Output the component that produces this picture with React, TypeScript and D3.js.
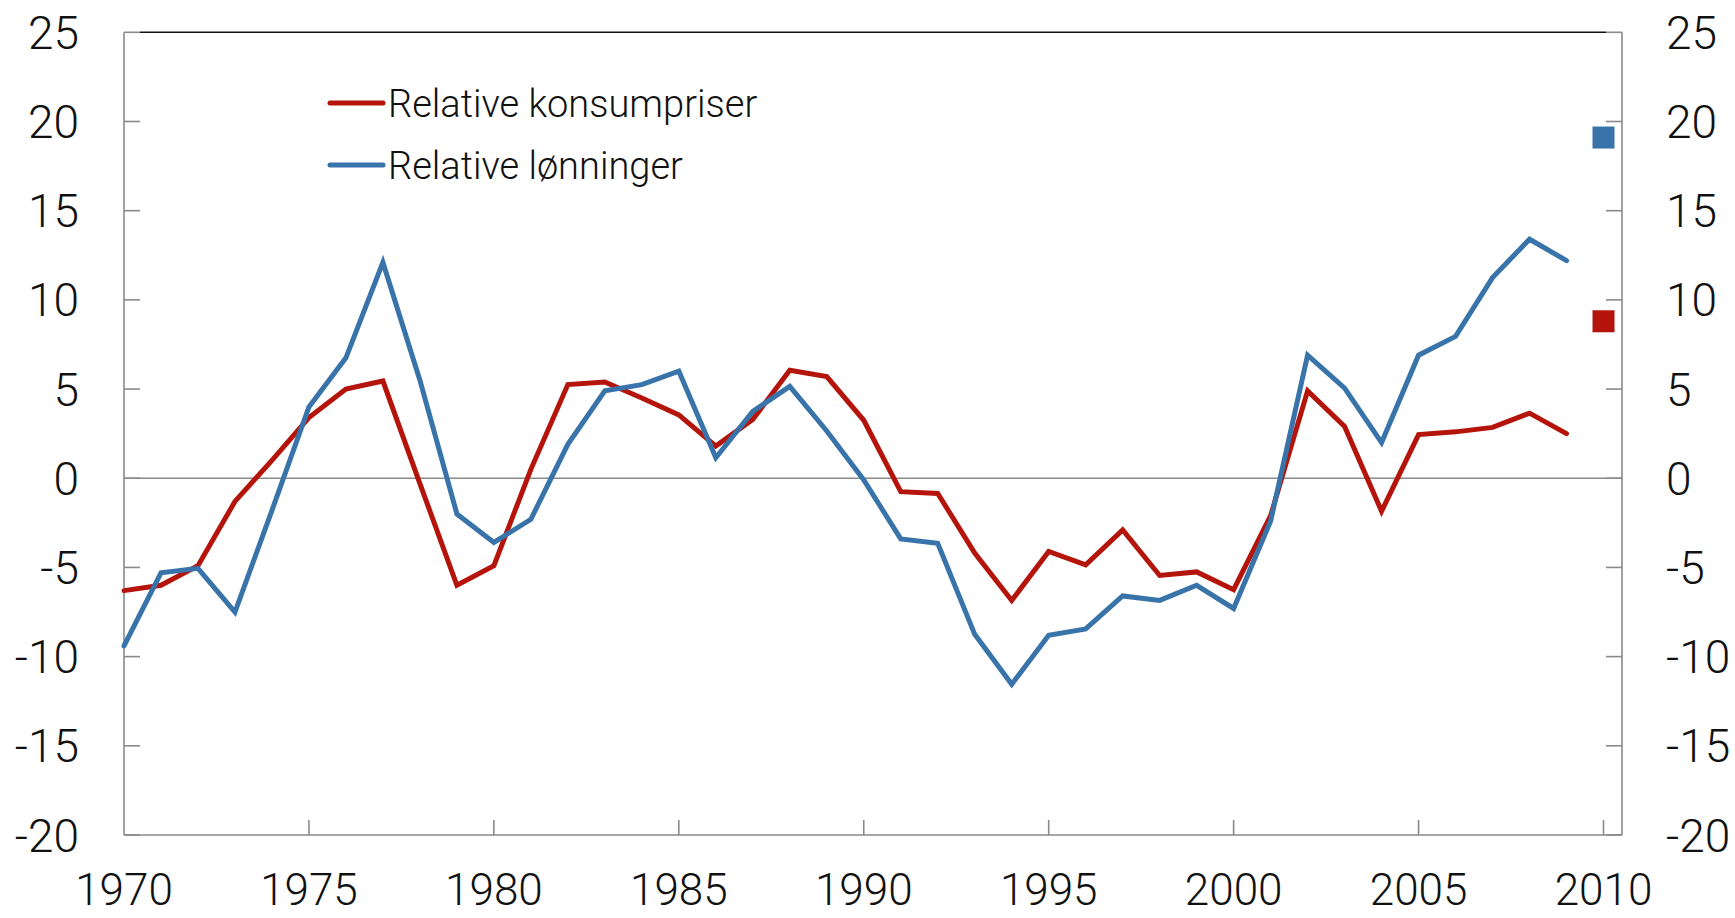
import * as d3 from 'd3'

// Relative konsumpriser / relative lønninger, prosent
const years = [
  1970, 1971, 1972, 1973, 1974, 1975, 1976, 1977, 1978, 1979,
  1980, 1981, 1982, 1983, 1984, 1985, 1986, 1987, 1988, 1989,
  1990, 1991, 1992, 1993, 1994, 1995, 1996, 1997, 1998, 1999,
  2000, 2001, 2002, 2003, 2004, 2005, 2006, 2007, 2008, 2009,
]

const prices = [
  -6.3, -6.0, -4.9, -1.3, 1.0, 3.4, 5.0, 5.45, -0.3, -6.0,
  -4.9, 0.5, 5.25, 5.4, 4.5, 3.55, 1.8, 3.3, 6.05, 5.7,
  3.25, -0.75, -0.85, -4.2, -6.85, -4.1, -4.85, -2.9, -5.45, -5.25,
  -6.25, -2.1, 4.9, 2.9, -1.85, 2.45, 2.6, 2.85, 3.65, 2.5,
]

const wages = [
  -9.4, -5.3, -5.05, -7.5, -1.8, 4.0, 6.75, 12.1, 5.5, -2.0,
  -3.6, -2.3, 1.9, 4.9, 5.25, 6.0, 1.15, 3.75, 5.15, 2.65,
  -0.1, -3.4, -3.65, -8.75, -11.55, -8.8, -8.45, -6.6, -6.85, -6.0,
  -7.3, -2.4, 6.9, 5.05, 2.0, 6.9, 7.95, 11.25, 13.4, 12.2,
]

// single points drawn as squares at 2010
const markerYear = 2010
const markers = [
  { name: 'wages', value: 19.1 },
  { name: 'prices', value: 8.8 },
]

const yTicks = [-20, -15, -10, -5, 0, 5, 10, 15, 20, 25]
const xTicks = [1970, 1975, 1980, 1985, 1990, 1995, 2000, 2005, 2010]

const series = [
  { key: 'prices', label: 'Relative konsumpriser', color: '#b5140b', values: prices },
  { key: 'wages', label: 'Relative lønninger', color: '#3873a9', values: wages },
]

const W = 1735
const H = 918
const FONT = 'Roboto, "Liberation Sans", Arial, sans-serif'

export default function App() {
  const x = d3.scaleLinear().domain([1970, 2010.5]).range([124, 1622])
  const y = d3.scaleLinear().domain([-20, 25]).range([835, 32.3])
  const left = x.range()[0]
  const right = x.range()[1]
  const tickLen = 16
  const axisColor = '#8a8a8a'

  const line = d3.line<number>()
    .x((_, i) => x(years[i]))
    .y(d => y(d))

  const colorOf = (k: string) => series.find(s => s.key === k)!.color

  return (
    <svg width={W} height={H} style={{ position: 'absolute', left: 0, top: 0, background: '#fff' }}
      fontFamily={FONT} fontWeight={300}>
      {/* top border */}
      <line x1={left + tickLen} x2={right - tickLen} y1={y(25)} y2={y(25)} stroke="#111" strokeWidth={1.6} />
      {/* zero line */}
      <line x1={left} x2={right} y1={y(0)} y2={y(0)} stroke={axisColor} strokeWidth={1.6} />
      {/* axes */}
      <line x1={left} x2={left} y1={y(25)} y2={y(-20)} stroke={axisColor} strokeWidth={1.6} />
      <line x1={right} x2={right} y1={y(25)} y2={y(-20)} stroke={axisColor} strokeWidth={1.6} />
      <line x1={left} x2={right} y1={y(-20)} y2={y(-20)} stroke={axisColor} strokeWidth={1.6} />

      {yTicks.map(t => (
        <g key={t}>
          <line x1={left} x2={left + tickLen} y1={y(t)} y2={y(t)} stroke={axisColor} strokeWidth={1.6} />
          <line x1={right - tickLen} x2={right} y1={y(t)} y2={y(t)} stroke={axisColor} strokeWidth={1.6} />
          <text x={79} y={y(t)} dy="0.36em" textAnchor="end" fontSize={46} fill="#111">{t}</text>
          <text x={1666} y={y(t)} dy="0.36em" textAnchor="start" fontSize={46} fill="#111">{t}</text>
        </g>
      ))}

      {xTicks.map(t => (
        <g key={t}>
          {t > 1970 && (
            <line x1={x(t)} x2={x(t)} y1={y(-20) - 15} y2={y(-20)} stroke={axisColor} strokeWidth={1.6} />
          )}
          <text x={x(t)} y={905} textAnchor="middle" fontSize={44} fill="#111">{t}</text>
        </g>
      ))}

      {series.map(s => (
        <path key={s.key} d={line(s.values) ?? ''} fill="none" stroke={s.color} strokeWidth={5}
          strokeLinejoin="miter" strokeLinecap="round" />
      ))}

      {markers.map(m => (
        <rect key={m.name} x={x(markerYear) - 11} y={y(m.value) - 11} width={22} height={22}
          fill={colorOf(m.name)} />
      ))}

      {/* legend */}
      {series.map((s, i) => {
        const ly = 103 + i * 62
        return (
          <g key={s.key}>
            <line x1={330} x2={383} y1={ly} y2={ly} stroke={s.color} strokeWidth={5} strokeLinecap="round" />
            <text x={388} y={ly} dy="0.36em" fontSize={38} fill="#111">{s.label}</text>
          </g>
        )
      })}
    </svg>
  )
}
